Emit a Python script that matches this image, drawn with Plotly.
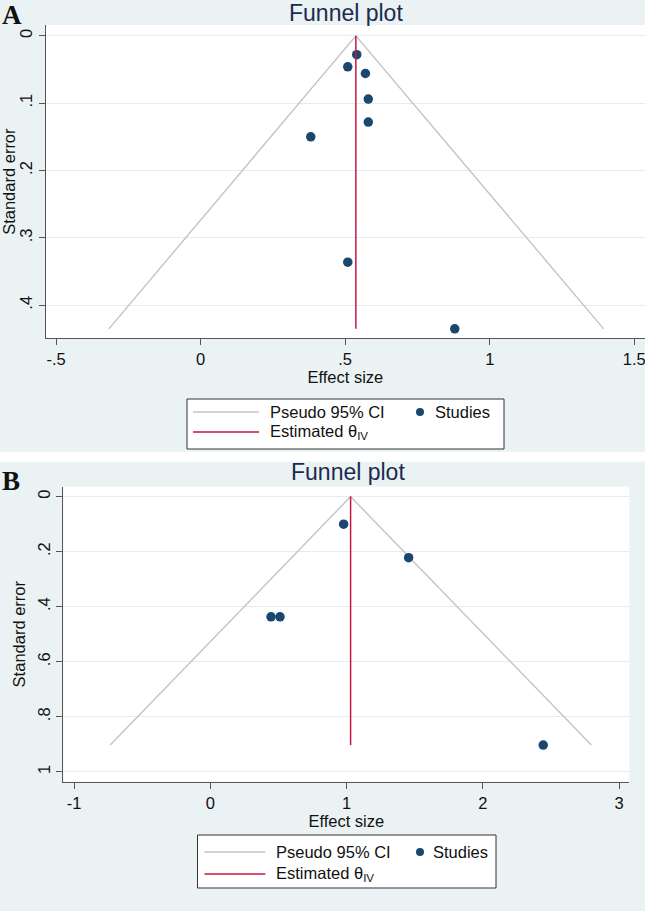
import plotly.graph_objects as go

W, H = 645, 911

def px(x):
    return x / W

def py(y):
    return 1 - y / H

# ---------------- data ----------------
# Panel A
effect_A = [0.540, 0.509, 0.570, 0.580, 0.580, 0.381, 0.509, 0.879]
se_A = [0.028, 0.046, 0.056, 0.094, 0.128, 0.150, 0.336, 0.435]
theta_A = 0.537
ci_A_x = [-0.317, 0.537, 1.394]
ci_A_se = [0.435, 0.0, 0.435]
theta_A_se = [0.0, 0.435]
yticks_A = [0, 0.1, 0.2, 0.3, 0.4]
ylabels_A = ["0", ".1", ".2", ".3", ".4"]
xticks_A = [-0.5, 0, 0.5, 1, 1.5]
xlabels_A = ["-.5", "0", ".5", "1", "1.5"]

# Panel B
effect_B = [0.979, 1.456, 0.446, 0.512, 2.444]
se_B = [0.100, 0.222, 0.437, 0.437, 0.903]
theta_B = 1.030
ci_B_x = [-0.734, 1.030, 2.797]
ci_B_se = [0.903, 0.0, 0.903]
theta_B_se = [0.0, 0.903]
yticks_B = [0, 0.2, 0.4, 0.6, 0.8, 1]
ylabels_B = ["0", ".2", ".4", ".6", ".8", "1"]
xticks_B = [-1, 0, 1, 2, 3]
xlabels_B = ["-1", "0", "1", "2", "3"]

# ---------------- styles ----------------
BG = "#EAF2F3"
GRID = "#E3ECEE"
AXIS = "#555555"
CI_COL = "#C4C4C4"
RED = "#C8173F"
NAVY = "#1A476F"
TITLE_COL = "#1C2A50"
FONT = "Liberation Sans, Arial, sans-serif"
FS = 16.5

fig = go.Figure()

def add_panel(xa, ya, ci_x, ci_se, theta, th_se, eff, se):
    fig.add_trace(go.Scatter(x=ci_x, y=ci_se, mode="lines",
                             line=dict(color=CI_COL, width=1.4),
                             xaxis=xa, yaxis=ya, showlegend=False, hoverinfo="skip"))
    fig.add_trace(go.Scatter(x=eff, y=se, mode="markers",
                             marker=dict(color=NAVY, size=9.5),
                             xaxis=xa, yaxis=ya, showlegend=False))
    fig.add_trace(go.Scatter(x=[theta, theta], y=th_se, mode="lines",
                             line=dict(color=RED, width=1.5),
                             xaxis=xa, yaxis=ya, showlegend=False, hoverinfo="skip"))

add_panel("x", "y", ci_A_x, ci_A_se, theta_A, theta_A_se, effect_A, se_A)
add_panel("x2", "y2", ci_B_x, ci_B_se, theta_B, theta_B_se, effect_B, se_B)

tickfont = dict(family=FONT, size=FS, color="#111111")
titlefont = dict(family=FONT, size=FS, color="#111111")

common_x = dict(showline=True, linecolor=AXIS, linewidth=1.2, ticks="outside",
                ticklen=6, tickcolor=AXIS, tickwidth=1.2, showgrid=False,
                zeroline=False, tickfont=tickfont, automargin=False,
                ticklabeloverflow="allow")
common_y = dict(showline=True, linecolor=AXIS, linewidth=1.2, ticks="outside",
                ticklen=6, tickcolor=AXIS, tickwidth=1.2, showgrid=True,
                gridcolor=GRID, gridwidth=1, zeroline=False, tickfont=tickfont,
                tickangle=-90, automargin=False, ticklabeloverflow="allow")

fig.update_layout(
    width=W, height=H,
    margin=dict(l=0, r=0, t=0, b=0),
    paper_bgcolor=BG, plot_bgcolor="white",
    font=dict(family=FONT),
    showlegend=False,
    xaxis=dict(domain=[px(45.7), 1.0], anchor="y", range=[-0.5357, 1.537],
               tickvals=xticks_A, ticktext=xlabels_A,
               title=dict(text="Effect size", font=titlefont, standoff=2), **common_x),
    yaxis=dict(domain=[py(338.3), py(25)], anchor="x", range=[0.449, -0.016],
               tickvals=yticks_A, ticktext=ylabels_A,
               title=dict(text="Standard error", font=titlefont, standoff=4), **common_y),
    xaxis2=dict(domain=[px(63.3), px(629.3)], anchor="y2", range=[-1.0785, 3.0756],
                tickvals=xticks_B, ticktext=xlabels_B,
                title=dict(text="Effect size", font=titlefont, standoff=2), **common_x),
    yaxis2=dict(domain=[py(781.7), py(486.7)], anchor="x2", range=[1.036, -0.036],
                tickvals=yticks_B, ticktext=ylabels_B,
                title=dict(text="Standard error", font=titlefont, standoff=4), **common_y),
)

shapes = []
annotations = []

# white separator strip between panels
shapes.append(dict(type="rect", xref="paper", yref="paper", x0=0, x1=1,
                   y0=py(461.7), y1=py(451.7), fillcolor="white", line=dict(width=0),
                   layer="below"))

# titles and panel letters
for (tx, ty, letter, lx, ly) in [(345.7, 13, "A", 12, 15), (347.7, 472, "B", 11, 481)]:
    annotations.append(dict(text="Funnel plot", x=px(tx), y=py(ty), xref="paper", yref="paper",
                            showarrow=False, xanchor="center", yanchor="middle",
                            font=dict(family=FONT, size=23, color=TITLE_COL)))
    annotations.append(dict(text="<b>%s</b>" % letter, x=px(lx), y=py(ly), xref="paper",
                            yref="paper", showarrow=False, xanchor="center", yanchor="middle",
                            font=dict(family="Liberation Serif, Times New Roman, serif",
                                      size=27, color="#111111")))

# manual legends
def legend(x0, x1, y0, y1, r1, r2, lx0, lx1, ltx, dx, dtx):
    shapes.append(dict(type="rect", xref="paper", yref="paper", x0=px(x0), x1=px(x1),
                       y0=py(y1), y1=py(y0), fillcolor="white",
                       line=dict(color="#333333", width=1)))
    shapes.append(dict(type="line", xref="paper", yref="paper", x0=px(lx0), x1=px(lx1),
                       y0=py(r1), y1=py(r1), line=dict(color=CI_COL, width=1.6)))
    shapes.append(dict(type="line", xref="paper", yref="paper", x0=px(lx0), x1=px(lx1),
                       y0=py(r2), y1=py(r2), line=dict(color=RED, width=1.6)))
    shapes.append(dict(type="circle", xref="paper", yref="paper",
                       x0=px(dx - 4), x1=px(dx + 4), y0=py(r1 + 4), y1=py(r1 - 4),
                       fillcolor=NAVY, line=dict(color=NAVY, width=0)))
    for txt, xx, yy in [("Pseudo 95% CI", ltx, r1), ("Studies", dtx, r1),
                        ("Estimated θ<sub>IV</sub>", ltx, r2)]:
        annotations.append(dict(text=txt, x=px(xx), y=py(yy), xref="paper", yref="paper",
                                showarrow=False, xanchor="left", yanchor="middle",
                                font=dict(family=FONT, size=FS, color="#111111")))

legend(187, 504, 399, 449, 412, 432, 193, 259, 268, 420, 433)
legend(197.5, 496, 835, 888, 852, 874, 204.5, 265.4, 274, 420, 431)

fig.update_layout(shapes=shapes, annotations=annotations)

fig.write_html("out.html",
               config={"displayModeBar": False},
               post_script="document.body.style.margin='0';document.body.style.overflow='hidden';")
